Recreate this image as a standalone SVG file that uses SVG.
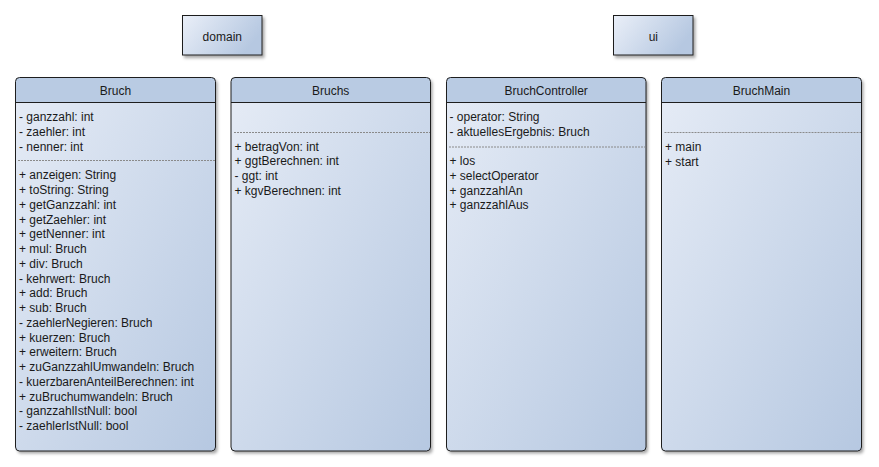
<svg xmlns="http://www.w3.org/2000/svg" width="879" height="467" viewBox="0 0 879 467">
<defs>
<linearGradient id="gBody" x1="0" y1="0" x2="1" y2="1">
<stop offset="0" stop-color="#e6ecf6"/>
<stop offset="1" stop-color="#b6c8e1"/>
</linearGradient>
<linearGradient id="gPkg" x1="0" y1="0" x2="1" y2="0.4">
<stop offset="0" stop-color="#eaeff8"/>
<stop offset="1" stop-color="#b6c8e1"/>
</linearGradient>
<filter id="sh" x="-10%" y="-10%" width="130%" height="130%">
<feDropShadow dx="2" dy="2.5" stdDeviation="1.5" flood-color="#000" flood-opacity="0.35"/>
</filter>
<clipPath id="cBruch"><rect x="15.5" y="77.5" width="200" height="373.5" rx="4"/></clipPath>
<clipPath id="cBruchs"><rect x="231" y="77.5" width="199.5" height="373.5" rx="4"/></clipPath>
<clipPath id="cCtrl"><rect x="446.5" y="77.5" width="199.5" height="373.5" rx="4"/></clipPath>
<clipPath id="cMain"><rect x="661.5" y="77.5" width="200" height="373.5" rx="4"/></clipPath>
</defs>
<style>
text{font-family:"Liberation Sans",Arial,sans-serif;font-size:12px;fill:#1a1a1a}
.c{text-anchor:middle}
.box{fill:url(#gBody);stroke:none;filter:url(#sh)}
.hdr{fill:#b9cbe3}
.bord{fill:none;stroke:#1e1e1e;stroke-width:1}
.hl{stroke:#1e1e1e;stroke-width:1}
.dl{stroke:#8a8a8a;stroke-width:1;stroke-dasharray:2 1}
.pkg{fill:url(#gPkg);stroke:#1e1e1e;stroke-width:1;filter:url(#sh)}
</style>

<g id="pkg-domain">
<rect class="pkg" x="182.5" y="15.5" width="79.5" height="39.5"/>
<text class="c" x="222.3" y="41">domain</text>
</g>
<g id="pkg-ui">
<rect class="pkg" x="613.5" y="15.5" width="79.5" height="39.5"/>
<text class="c" x="653.3" y="41">ui</text>
</g>

<g id="Bruch">
<rect class="box" x="15.5" y="77.5" width="200" height="373.5" rx="4"/>
<rect class="hdr" x="15.5" y="77.5" width="200" height="25" clip-path="url(#cBruch)"/>
<line class="hl" x1="15.5" y1="102.5" x2="215.5" y2="102.5"/>
<rect class="bord" x="15.5" y="77.5" width="200" height="373.5" rx="4"/>
<text class="c" x="115.5" y="95">Bruch</text>
<text x="19" y="121.3">- ganzzahl: int</text>
<text x="19" y="136">- zaehler: int</text>
<text x="19" y="150.6">- nenner: int</text>
<line class="dl" x1="18" y1="160.5" x2="215" y2="160.5"/>
<text x="19" y="179.2">+ anzeigen: String</text>
<text x="19" y="194">+ toString: String</text>
<text x="19" y="208.7">+ getGanzzahl: int</text>
<text x="19" y="223.5">+ getZaehler: int</text>
<text x="19" y="238.2">+ getNenner: int</text>
<text x="19" y="253">+ mul: Bruch</text>
<text x="19" y="267.8">+ div: Bruch</text>
<text x="19" y="282.5">- kehrwert: Bruch</text>
<text x="19" y="297.3">+ add: Bruch</text>
<text x="19" y="312">+ sub: Bruch</text>
<text x="19" y="326.8">- zaehlerNegieren: Bruch</text>
<text x="19" y="341.6">+ kuerzen: Bruch</text>
<text x="19" y="356.3">+ erweitern: Bruch</text>
<text x="19" y="371.1">+ zuGanzzahlUmwandeln: Bruch</text>
<text x="19" y="385.8">- kuerzbarenAnteilBerechnen: int</text>
<text x="19" y="400.6">+ zuBruchumwandeln: Bruch</text>
<text x="19" y="415.4">- ganzzahlIstNull: bool</text>
<text x="19" y="430.1">- zaehlerIstNull: bool</text>
</g>

<g id="Bruchs">
<rect class="box" x="231" y="77.5" width="199.5" height="373.5" rx="4"/>
<rect class="hdr" x="231" y="77.5" width="199.5" height="25" clip-path="url(#cBruchs)"/>
<line class="hl" x1="231" y1="102.5" x2="430.5" y2="102.5"/>
<rect class="bord" x="231" y="77.5" width="199.5" height="373.5" rx="4"/>
<text class="c" x="330.7" y="95">Bruchs</text>
<line class="dl" x1="234" y1="132.5" x2="430" y2="132.5"/>
<text x="234.5" y="150.5">+ betragVon: int</text>
<text x="234.5" y="165.2">+ ggtBerechnen: int</text>
<text x="234.5" y="179.9">- ggt: int</text>
<text x="234.5" y="194.6">+ kgvBerechnen: int</text>
</g>

<g id="BruchController">
<rect class="box" x="446.5" y="77.5" width="199.5" height="373.5" rx="4"/>
<rect class="hdr" x="446.5" y="77.5" width="199.5" height="25" clip-path="url(#cCtrl)"/>
<line class="hl" x1="446.5" y1="102.5" x2="646" y2="102.5"/>
<rect class="bord" x="446.5" y="77.5" width="199.5" height="373.5" rx="4"/>
<text class="c" x="546.2" y="95">BruchController</text>
<text x="449.5" y="121.3">- operator: String</text>
<text x="449.5" y="136">- aktuellesErgebnis: Bruch</text>
<line class="dl" x1="449" y1="147" x2="645.5" y2="147"/>
<text x="449.5" y="165.3">+ los</text>
<text x="449.5" y="180">+ selectOperator</text>
<text x="449.5" y="194.7">+ ganzzahlAn</text>
<text x="449.5" y="209.4">+ ganzzahlAus</text>
</g>

<g id="BruchMain">
<rect class="box" x="661.5" y="77.5" width="200" height="373.5" rx="4"/>
<rect class="hdr" x="661.5" y="77.5" width="200" height="25" clip-path="url(#cMain)"/>
<line class="hl" x1="661.5" y1="102.5" x2="861.5" y2="102.5"/>
<rect class="bord" x="661.5" y="77.5" width="200" height="373.5" rx="4"/>
<text class="c" x="761.5" y="95">BruchMain</text>
<line class="dl" x1="664.5" y1="132.5" x2="861" y2="132.5"/>
<text x="665" y="151">+ main</text>
<text x="665" y="165.6">+ start</text>
</g>

<g id="connectors"></g>
</svg>
